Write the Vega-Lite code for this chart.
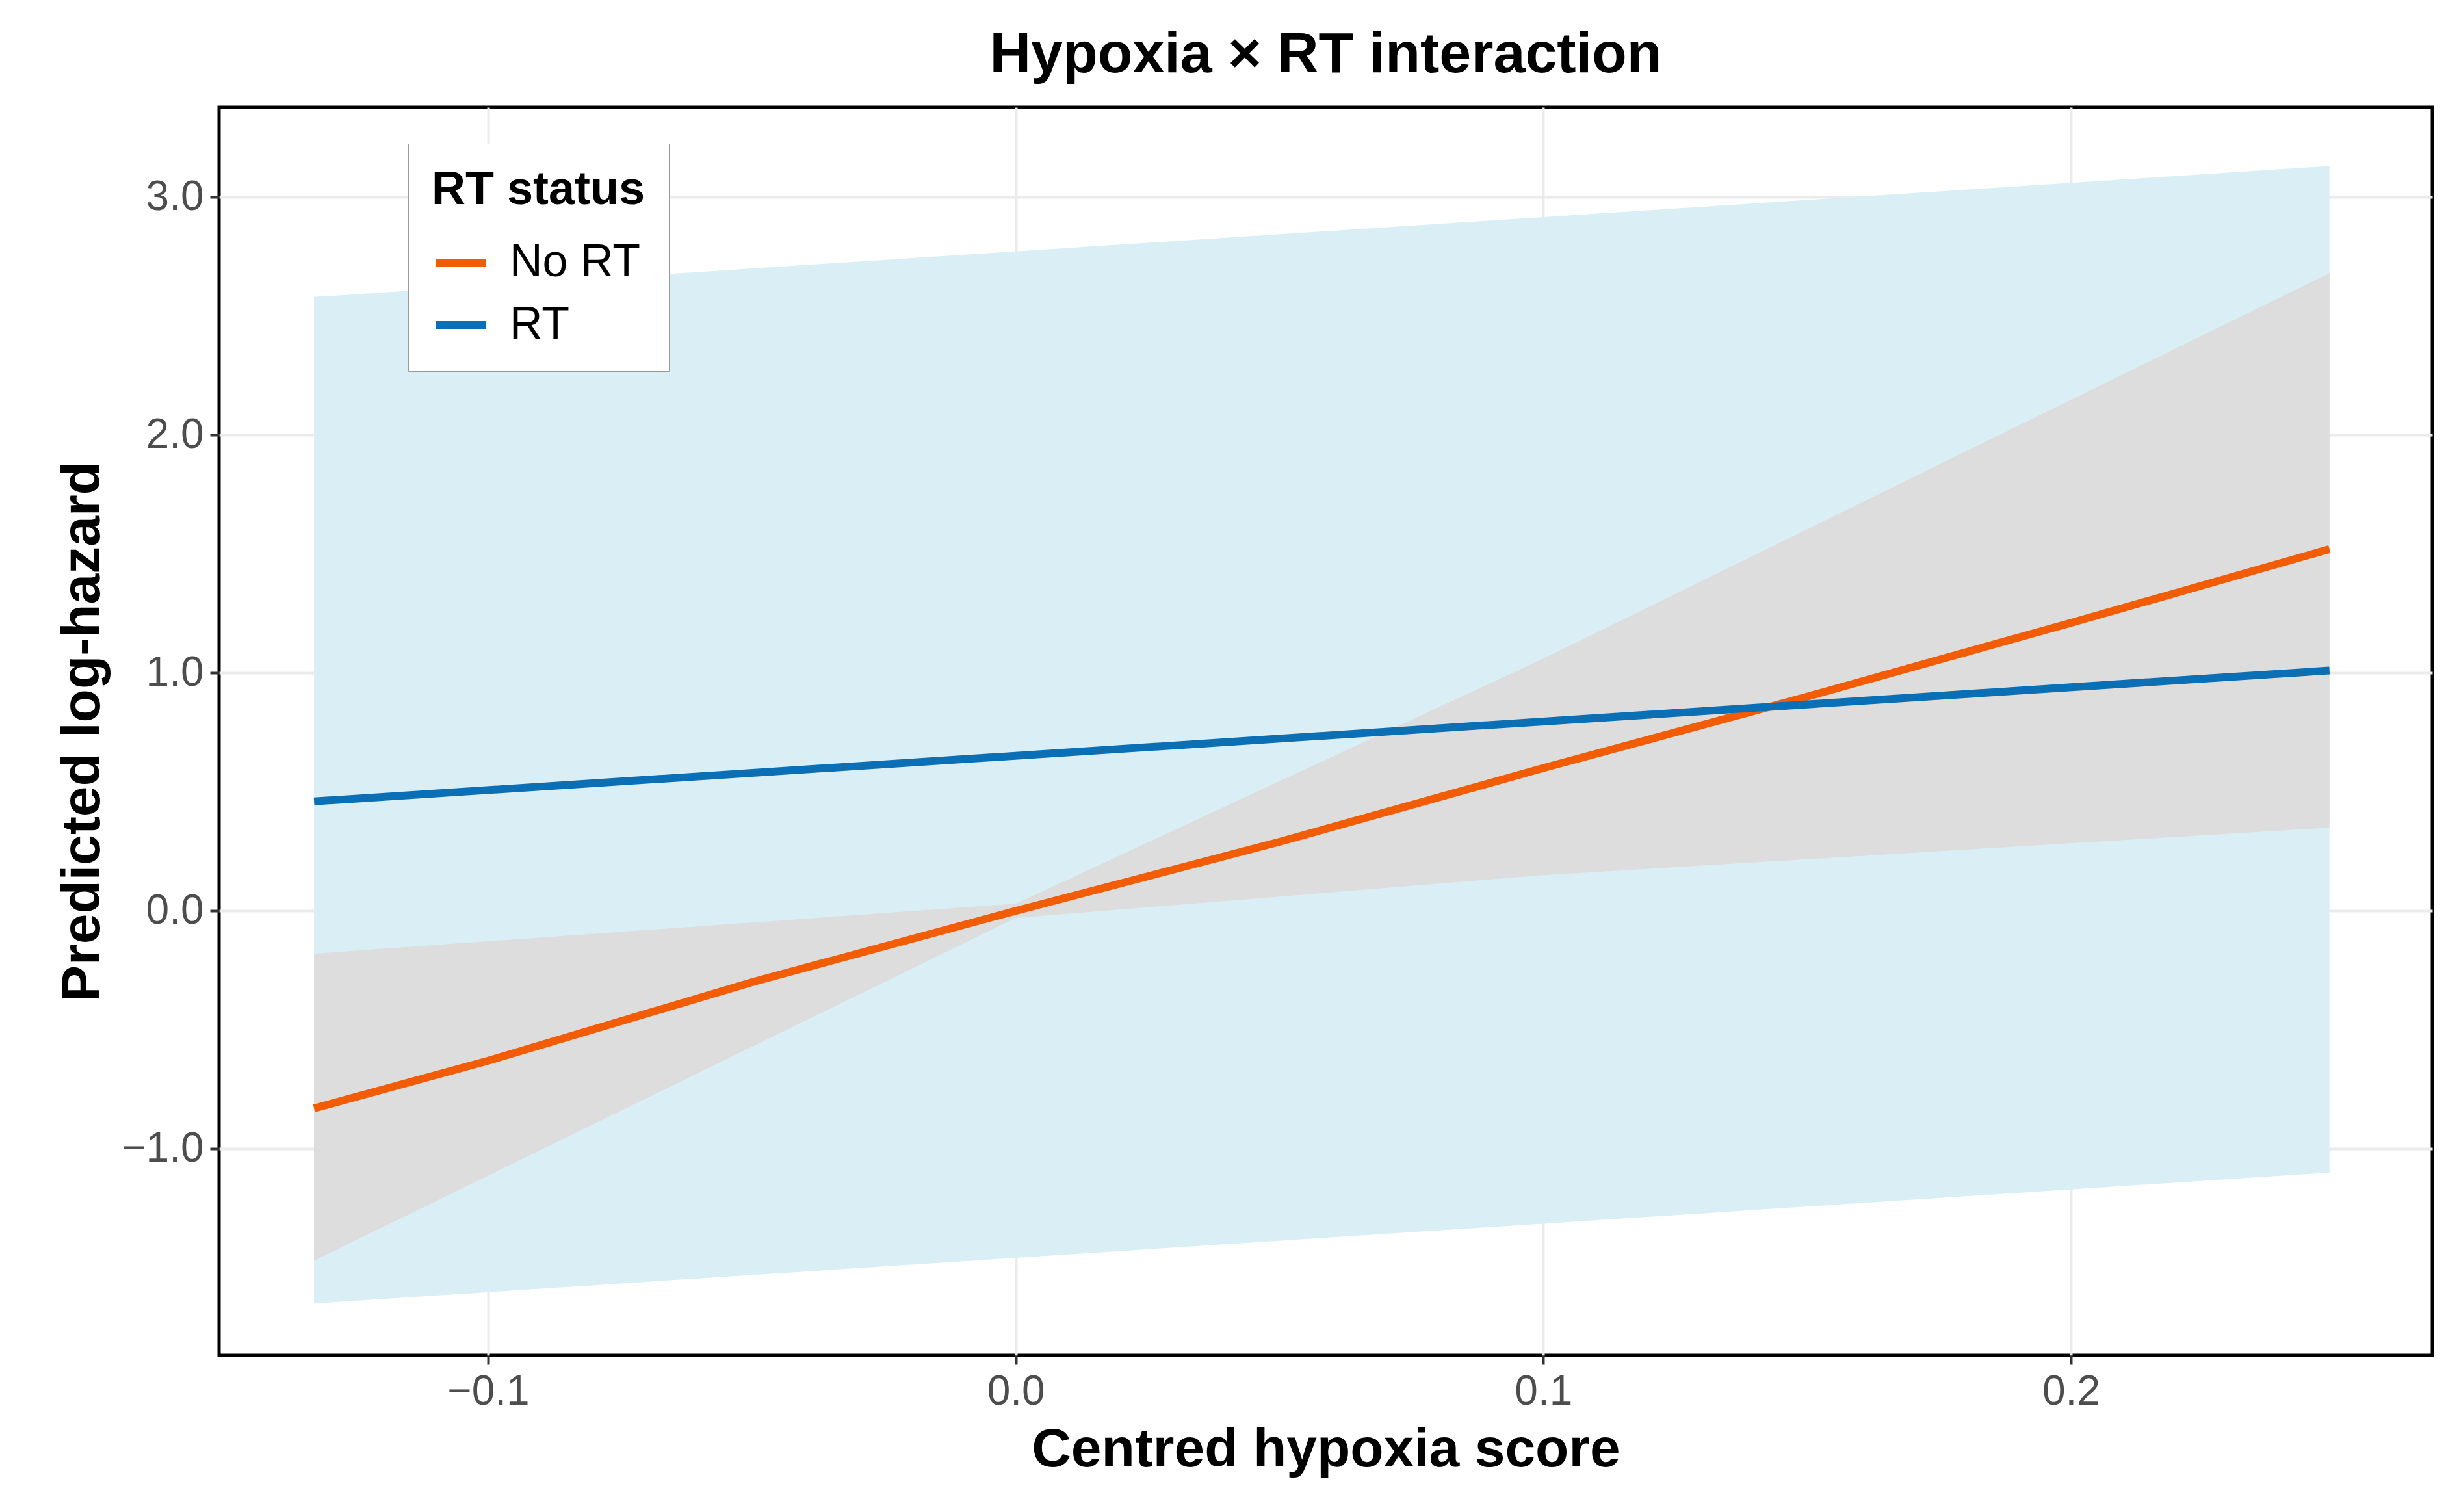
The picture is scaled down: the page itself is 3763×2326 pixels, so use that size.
{
  "$schema": "https://vega.github.io/schema/vega-lite/v6.json",
  "width": 3405,
  "height": 1920,
  "autosize": {"type": "none"},
  "padding": {"left": 337, "top": 165, "right": 21, "bottom": 241},
  "background": "white",
  "title": {"text": "Hypoxia × RT interaction", "fontSize": 88, "font": "Liberation Sans", "fontWeight": "bold", "color": "black", "offset": 36, "anchor": "middle"},
  "datasets": {
    "bands": [
      {"series": "RT", "x": -0.133, "lo": -1.65, "hi": 2.58},
      {"series": "RT", "x": 0.249, "lo": -1.1, "hi": 3.13},
      {"series": "No RT", "x": -0.133, "lo": -1.47, "hi": -0.18},
      {"series": "No RT", "x": 0.0, "lo": -0.03, "hi": 0.03},
      {"series": "No RT", "x": 0.1, "lo": 0.15, "hi": 1.06},
      {"series": "No RT", "x": 0.249, "lo": 0.35, "hi": 2.68}
    ],
    "lines": [
      {"series": "No RT", "x": -0.133, "y": -0.83},
      {"series": "No RT", "x": -0.1, "y": -0.63},
      {"series": "No RT", "x": -0.05, "y": -0.3},
      {"series": "No RT", "x": 0.0, "y": 0.0},
      {"series": "No RT", "x": 0.05, "y": 0.29},
      {"series": "No RT", "x": 0.1, "y": 0.6},
      {"series": "No RT", "x": 0.15, "y": 0.9},
      {"series": "No RT", "x": 0.2, "y": 1.21},
      {"series": "No RT", "x": 0.249, "y": 1.52},
      {"series": "RT", "x": -0.133, "y": 0.46},
      {"series": "RT", "x": 0.249, "y": 1.01}
    ]
  },
  "encoding": {
    "x": {"type": "quantitative", "scale": {"domain": [-0.151, 0.2685], "nice": false, "zero": false},
      "axis": {"title": "Centred hypoxia score", "values": [-0.1, 0, 0.1, 0.2], "format": ".1f"}}
  },
  "layer": [
    {
      "data": {"name": "bands"},
      "transform": [{"filter": "datum.series == 'RT'"}],
      "mark": {"type": "area", "color": "#DAEEF5", "opacity": 1},
      "encoding": {
        "x": {"field": "x", "type": "quantitative"},
        "y": {"field": "lo", "type": "quantitative"},
        "y2": {"field": "hi"}
      }
    },
    {
      "data": {"name": "bands"},
      "transform": [{"filter": "datum.series == 'No RT'"}],
      "mark": {"type": "area", "color": "#DDDDDD", "opacity": 1},
      "encoding": {
        "x": {"field": "x", "type": "quantitative"},
        "y": {"field": "lo", "type": "quantitative"},
        "y2": {"field": "hi"}
      }
    },
    {
      "data": {"name": "lines"},
      "mark": {"type": "line", "strokeWidth": 12},
      "encoding": {
        "x": {"field": "x", "type": "quantitative"},
        "y": {"field": "y", "type": "quantitative",
          "scale": {"domain": [-1.868, 3.377], "nice": false, "zero": false},
          "axis": {"title": "Predicted log-hazard", "values": [-1, 0, 1, 2, 3], "format": ".1f"}},
        "color": {"field": "series", "type": "nominal",
          "scale": {"domain": ["No RT", "RT"], "range": ["#F25C05", "#0A6FB5"]},
          "legend": {"title": "RT status", "orient": "none", "legendX": 291, "legendY": 56,
            "symbolType": "stroke", "symbolStrokeWidth": 12, "symbolSize": 6000,
            "strokeColor": "#999999", "padding": 36, "fillColor": "white",
            "titleFontSize": 72, "labelFontSize": 70, "titleFont": "Liberation Sans", "labelFont": "Liberation Sans",
            "titleColor": "black", "labelColor": "black", "rowPadding": 16, "titlePadding": 30,
            "labelLimit": 0, "titleLimit": 0, "labelOffset": 30}}
      }
    }
  ],
  "config": {
    "view": {"stroke": "black", "strokeWidth": 5},
    "axis": {
      "labelFont": "Liberation Sans", "labelFontSize": 64, "labelColor": "#4D4D4D",
      "titleFont": "Liberation Sans", "titleFontSize": 84, "titleColor": "black", "titleFontWeight": "bold",
      "gridColor": "#EBEBEB", "gridWidth": 4, "domain": false,
      "tickColor": "#333333", "tickWidth": 4, "tickSize": 14, "labelPadding": 10, "titlePadding": 16
    }
  }
}
